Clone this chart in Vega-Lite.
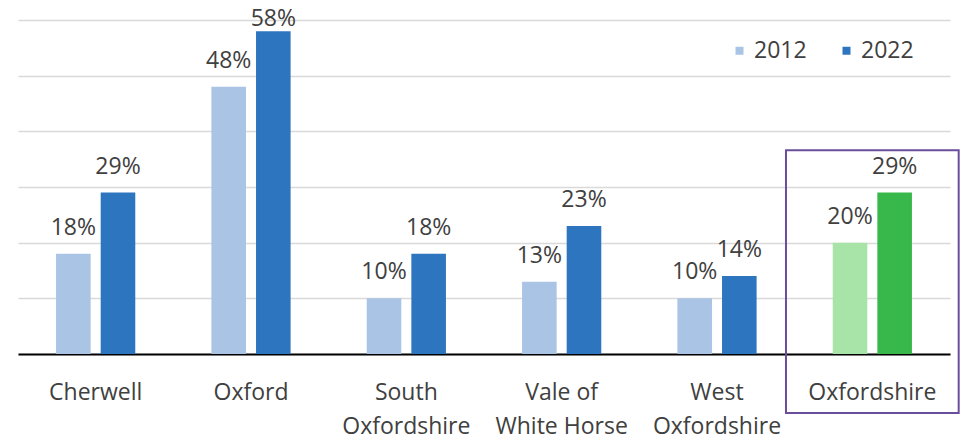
{
  "$schema": "https://vega.github.io/schema/vega-lite/v6.json",
  "width": 932,
  "height": 334,
  "autosize": {"type": "none"},
  "padding": {"left": 18, "top": 20, "right": 10, "bottom": 85},
  "background": "white",
  "config": {"view": {"stroke": null}, "font": "Open Sans"},
  "data": {
    "values": [
      {"area": "Cherwell", "year": "2012", "series": "2012", "value": 0.18},
      {"area": "Cherwell", "year": "2022", "series": "2022", "value": 0.29},
      {"area": "Oxford", "year": "2012", "series": "2012", "value": 0.48},
      {"area": "Oxford", "year": "2022", "series": "2022", "value": 0.58},
      {"area": "South Oxfordshire", "year": "2012", "series": "2012", "value": 0.10},
      {"area": "South Oxfordshire", "year": "2022", "series": "2022", "value": 0.18},
      {"area": "Vale of White Horse", "year": "2012", "series": "2012", "value": 0.13},
      {"area": "Vale of White Horse", "year": "2022", "series": "2022", "value": 0.23},
      {"area": "West Oxfordshire", "year": "2012", "series": "2012", "value": 0.10},
      {"area": "West Oxfordshire", "year": "2022", "series": "2022", "value": 0.14},
      {"area": "Oxfordshire", "year": "2012", "series": "2012 Oxfordshire", "value": 0.20},
      {"area": "Oxfordshire", "year": "2022", "series": "2022 Oxfordshire", "value": 0.29}
    ]
  },
  "encoding": {
    "x": {
      "field": "area",
      "type": "nominal",
      "sort": ["Cherwell", "Oxford", "South Oxfordshire", "Vale of White Horse", "West Oxfordshire", "Oxfordshire"],
      "scale": {"paddingInner": 0.49, "paddingOuter": 0.245},
      "axis": {
        "title": null,
        "labelAngle": 0,
        "ticks": false,
        "domain": true,
        "domainColor": "#000000",
        "domainWidth": 2,
        "labelFontSize": 23,
        "labelColor": "#404040",
        "labelPadding": 27,
        "labelLineHeight": 34,
        "labelExpr": "datum.label == 'South Oxfordshire' ? ['South', 'Oxfordshire'] : datum.label == 'Vale of White Horse' ? ['Vale of', 'White Horse'] : datum.label == 'West Oxfordshire' ? ['West', 'Oxfordshire'] : datum.label"
      }
    }
  },
  "layer": [
    {
      "mark": {"type": "bar"},
      "encoding": {
        "xOffset": {"field": "year", "type": "nominal", "scale": {"paddingInner": 0.225, "paddingOuter": 0}},
        "y": {
          "field": "value",
          "type": "quantitative",
          "scale": {"domain": [0, 0.6], "nice": false},
          "axis": {
            "title": null,
            "values": [0, 0.1, 0.2, 0.3, 0.4, 0.5, 0.6],
            "grid": true,
            "gridColor": "#D9D9D9",
            "gridWidth": 1.5,
            "domain": false,
            "ticks": false,
            "labels": false
          }
        },
        "color": {
          "field": "series",
          "type": "nominal",
          "scale": {
            "domain": ["2012", "2022", "2012 Oxfordshire", "2022 Oxfordshire"],
            "range": ["#A9C4E4", "#2E75C0", "#A8E4A8", "#38B84A"]
          },
          "legend": {
            "values": ["2012", "2022"],
            "title": null,
            "orient": "none",
            "legendX": 710,
            "legendY": 19,
            "direction": "horizontal",
            "padding": 0,
            "symbolType": "square",
            "symbolSize": 64,
            "symbolStrokeWidth": 0,
            "labelFontSize": 23,
            "labelColor": "#404040",
            "labelOffset": 3,
            "columnPadding": 28
          }
        }
      }
    },
    {
      "transform": [{"filter": "datum.value < 0.55"}],
      "mark": {"type": "text", "fontSize": 23, "color": "#404040", "baseline": "alphabetic", "dy": -19},
      "encoding": {
        "xOffset": {"field": "year", "type": "nominal"},
        "y": {"field": "value", "type": "quantitative"},
        "text": {"field": "value", "type": "quantitative", "format": ".0%"}
      }
    },
    {
      "transform": [{"filter": "datum.value >= 0.55"}],
      "mark": {"type": "text", "fontSize": 23, "color": "#404040", "baseline": "alphabetic", "dy": -5},
      "encoding": {
        "xOffset": {"field": "year", "type": "nominal"},
        "y": {"field": "value", "type": "quantitative"},
        "text": {"field": "value", "type": "quantitative", "format": ".0%"}
      }
    },
    {
      "transform": [{"filter": "datum.area == 'Oxfordshire' && datum.year == '2012'"}],
      "mark": {"type": "bar", "fill": null, "stroke": "#6B4E9B", "strokeWidth": 2, "clip": false, "width": {"band": 2.18}},
      "encoding": {
        "y": {"datum": 0.366},
        "y2": {"datum": -0.106}
      }
    }
  ]
}
